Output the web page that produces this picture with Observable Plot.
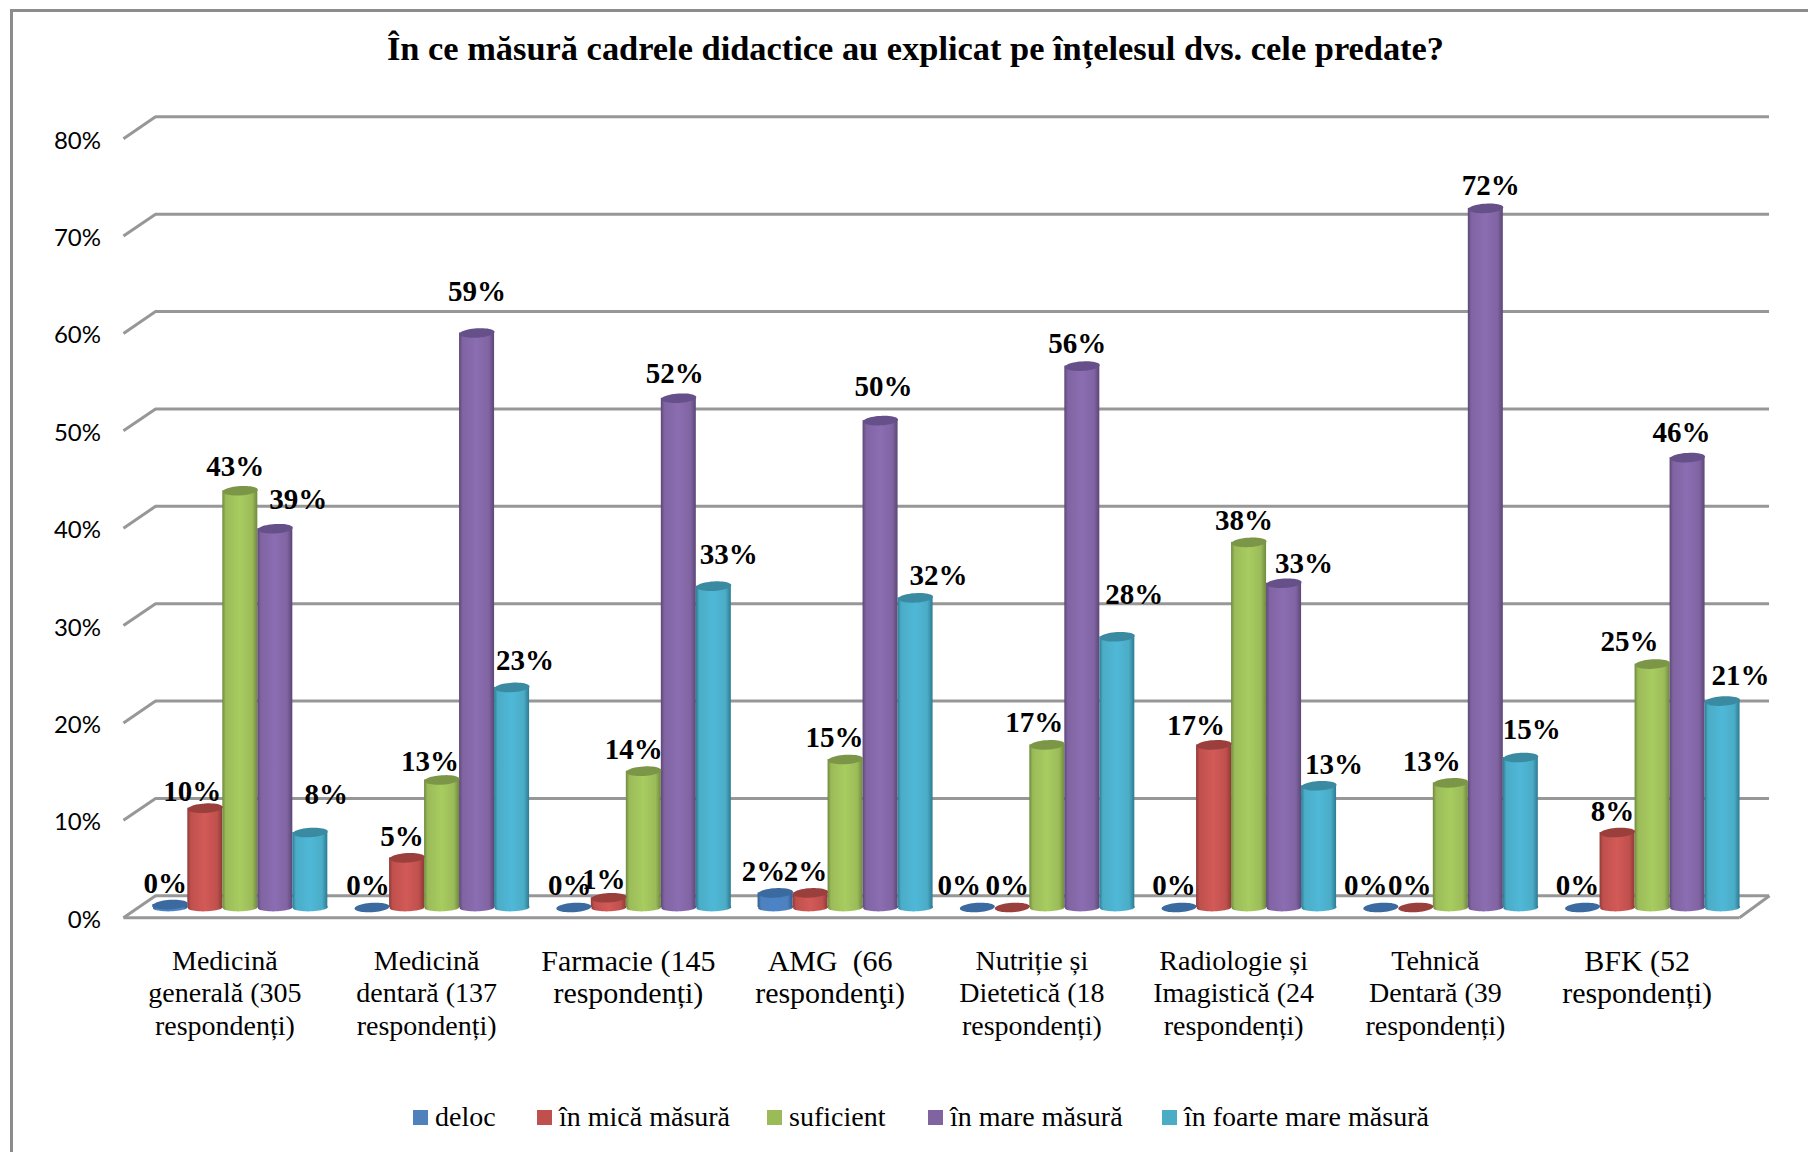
<!DOCTYPE html>
<html lang="ro">
<head>
<meta charset="utf-8">
<script src="https://cdn.jsdelivr.net/npm/d3@7"></script>
<script src="https://cdn.jsdelivr.net/npm/@observablehq/plot@0.6"></script>
<style>
html,body{margin:0;padding:0;background:#fff;width:1808px;height:1152px;overflow:hidden}
#frame{position:absolute;left:10px;top:9px;width:1810px;height:1160px;border-left:3px solid #8c8c8c;border-top:3px solid #8c8c8c;pointer-events:none}
#title{height:90px;box-sizing:border-box;padding:28px 0 0 23px;text-align:center;font:bold 34.4px/40px "Liberation Serif",serif;color:#000;white-space:nowrap}
#chart svg{display:block}
#legend{position:relative;height:67px;font:28px/38px "Liberation Serif",serif;color:#000;white-space:nowrap}
#legend span.item{position:absolute;top:13px;display:flex;align-items:center;gap:7px}
#legend i{display:block;width:15px;height:15px}
</style>
</head>
<body>
<svg width="0" height="0" style="position:absolute">
  <defs id="defs"></defs>
</svg>
<div id="frame"></div>
<div id="title"></div>
<div id="chart"></div>
<div id="legend"></div>
<script>
const titleText = "În ce măsură cadrele didactice au explicat pe înțelesul dvs. cele predate?";
const categories = [
  "Medicină\ngenerală (305\nrespondenți)",
  "Medicină\ndentară (137\nrespondenți)",
  "Farmacie (145\nrespondenți)",
  "AMG  (66\nrespondenţi)",
  "Nutriție și\nDietetică (18\nrespondenți)",
  "Radiologie și\nImagistică (24\nrespondenți)",
  "Tehnică\nDentară (39\nrespondenți)",
  "BFK (52\nrespondenți)"
];
const series = ["deloc", "în mică măsură", "suficient", "în mare măsură", "în foarte mare măsură"];
const deloc    = [0.3, 0, 0, 1.5, 0, 0, 0, 0];
const mica     = [10.2, 5.1, 1, 1.5, 0, 16.7, 0, 7.7];
const suficient= [42.8, 13.1, 14, 15.2, 16.7, 37.5, 12.8, 25];
const mare     = [38.9, 59, 52.3, 50, 55.6, 33.3, 71.8, 46.2];
const foarte   = [7.7, 22.6, 33, 31.8, 27.8, 12.5, 15.4, 21.2];
const seriesValues = [deloc, mica, suficient, mare, foarte];
const yTicks = [0, 10, 20, 30, 40, 50, 60, 70, 80];
const legendLeft = [413, 537, 767, 928, 1162];

// Label offsets from the top of each bar, in pixels (hand-placed in the original).
const labelDx = [
  [-5,-13,-5,23,16],[-4,-5,-12,0,13],[-4,-5,-10,-4,15],[-12,-5,-11,3,23],
  [-18,-5,-13,-5,17],[-5,-18,-5,20,15],[-15,-6,-19,5,11],[-5,-5,-23,-6,18]
];
const labelDy = [
  [-21,-16,-24,-29,-38],[-22,-21,-18,-41,-27],[-22,-18,-21,-25,-31],[-21,-21,-22,-34,-22],
  [-22,-22,-22,-22,-42],[-22,-19,-22,-20,-21],[-22,-22,-21,-23,-28],[-22,-21,-22,-25,-25]
];

// Styles
const flat  = ["#4F81BD", "#C0504D", "#9BBB59", "#8064A2", "#4BACC6"];
const light = ["#4a84c8", "#d25a57", "#a8cc60", "#8b6db2", "#4fb8d8"];
const dark  = ["#2f5f93", "#8f3a38", "#6f8a3e", "#5c4777", "#2c7b93"];
const capFill = ["#3a6a9f", "#9a3f3c", "#7c9647", "#66508a", "#3a8aa2"];

const defs = document.getElementById("defs");
defs.innerHTML = series.map((_, s) => `
  <linearGradient id="g${s}" x1="0" x2="1" y1="0" y2="0">
    <stop offset="0" stop-color="${dark[s]}"/>
    <stop offset="0.1" stop-color="${flat[s]}"/>
    <stop offset="0.5" stop-color="${light[s]}"/>
    <stop offset="0.85" stop-color="${flat[s]}"/>
    <stop offset="1" stop-color="${dark[s]}"/>
  </linearGradient>`).join("");

document.getElementById("title").textContent = titleText;

const rows = [];
categories.forEach((c, i) => series.forEach((name, s) => {
  const step = 0.1735, pad = 0.0635;
  rows.push({
    i, s, name, v: seriesValues[s][i],
    x1: i + pad + s * step,
    x2: i + pad + (s + 1) * step,
    xc: i + pad + (s + 0.5) * step,
    dx: labelDx[i][s], dy: labelDy[i][s]
  });
}));

// Tilted thin ellipse for cylinder caps: a custom Plot symbol.
function ellipseSymbol(ratio, tilt) {
  return {
    draw(ctx, size) {
      const rx = Math.sqrt(size / Math.PI), ry = rx * ratio;
      const c = Math.cos(tilt), sn = Math.sin(tilt);
      for (let k = 0; k < 48; ++k) {
        const a = k / 48 * 2 * Math.PI;
        const ex = rx * Math.cos(a), ey = ry * Math.sin(a);
        const px = ex * c - ey * sn, py = ex * sn + ey * c;
        k ? ctx.lineTo(px, py) : ctx.moveTo(px, py);
      }
      ctx.closePath();
    }
  };
}
const cap = ellipseSymbol(0.27, -0.06);
const base = ellipseSymbol(0.22, -0.03);

const FRONT_L = -0.082, BACK_L = 0.077, FRONT_R = 7.928, BACK_R = 8.077;
const FRONT_D = -1.05, BACK_D = 1.2;
const wall = {stroke: "#979797", strokeWidth: 3};
const centers = categories.map((_, i) => i + 0.5);
const lineCount = t => categories[Math.floor(t)].split("\n").length;
const xAxisCommon = {
  tickFormat: t => categories[Math.floor(t)],
  tickSize: 0, label: null, dx: -16,
  fontFamily: "Liberation Serif", fill: "#000", textOverflow: null
};

const plot = Plot.plot({
  width: 1808,
  height: 995,
  marginLeft: 139.5,
  marginRight: 54.5,
  marginTop: 38,
  marginBottom: 178,
  style: {background: "#fff", overflow: "visible"},
  x: {domain: [0, 8], axis: null},
  y: {domain: [0, 80], axis: null},
  color: {type: "identity"},
  marks: [
    Plot.ruleY(yTicks, {x1: BACK_L, x2: BACK_R, y: d => d + BACK_D, ...wall}),
    Plot.link(yTicks, {x1: FRONT_L, x2: BACK_L, y1: d => d + FRONT_D, y2: d => d + BACK_D, ...wall, markerEnd: null}),
    Plot.link([0], {x1: FRONT_L, x2: FRONT_R, y1: FRONT_D, y2: FRONT_D, ...wall}),
    Plot.link([0], {x1: FRONT_R, x2: BACK_R, y1: FRONT_D, y2: BACK_D, ...wall}),
    Plot.axisY({
      ticks: yTicks, tickSize: 0, tickPadding: 39, label: null, dy: 12.5,
      tickFormat: d => d + "%", fontFamily: "Lato", fontSize: 24, fill: "#000"
    }),
    Plot.axisX({
      ...xAxisCommon,
      ticks: centers.filter(t => lineCount(t) === 3),
      tickPadding: 40, fontSize: 28, lineHeight: 1.147
    }),
    Plot.axisX({
      ...xAxisCommon,
      ticks: centers.filter(t => lineCount(t) === 2),
      tickPadding: 41, fontSize: 30, lineHeight: 1.07
    }),
    // bottom of each cylinder
    Plot.dot(rows.filter(d => d.v > 0), {
      x: "xc", y: d => 0, r: 17.5, symbol: base,
      fill: d => `url(#g${d.s})`, stroke: "none"
    }),
    // cylinder body
    Plot.rect(rows.filter(d => d.v > 0), {
      x1: "x1", x2: "x2", y1: d => 0, y2: "v",
      fill: d => `url(#g${d.s})`
    }),
    // cap, also the flat disc of a zero value
    Plot.dot(rows, {
      x: "xc", y: "v", r: 17.5, symbol: cap,
      fill: d => capFill[d.s], stroke: "none"
    }),
    ...rows.map(d => Plot.text([d], {
      x: "xc", y: "v", text: r => Math.round(r.v) + "%",
      dx: d.dx, dy: d.dy,
      fontFamily: "Liberation Serif", fontWeight: "bold", fontSize: 29, fill: "#000"
    }))
  ]
});
document.getElementById("chart").appendChild(plot);

document.getElementById("legend").innerHTML = series.map((name, s) =>
  `<span class="item" style="left:${legendLeft[s]}px"><i style="background:${flat[s]}"></i><span>${name}</span></span>`).join("");
</script>
</body>
</html>
